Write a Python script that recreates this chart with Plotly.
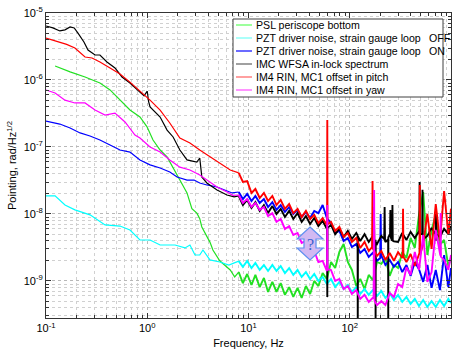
import plotly.graph_objects as go

# ---------------- data ----------------
hf_f = [8, 8.8, 9.7, 10.7, 11.7, 12.9, 14.2, 15.6, 17.2, 18.9,
        20.8, 22.9, 25.2, 27.7, 30.5, 33.5, 36.9, 40.6, 44.6, 49,
        54, 59.4, 65.3, 71.8, 79, 87, 95.7, 105, 116, 127,
        140, 154, 169, 186, 205, 225, 248, 273, 300, 330,
        363, 399, 439, 483, 531, 584, 643, 707, 778, 855,
        941, 1000]

# PSL periscope bottom (green)
psl_lf_f = [0.123, 0.137, 0.173, 0.243, 0.341, 0.429, 0.538, 0.675, 0.847, 0.995,
            1.14, 1.34, 1.57, 1.80, 2.10, 2.47, 2.76, 3.09, 3.30, 3.46,
            3.88, 4.16, 4.45, 5.2, 6.6, 7.3]
psl_lf_v = [1.62e-6, 1.51e-6, 1.32e-6, 1.11e-6, 9.0e-7, 7.1e-7, 5.0e-7, 3.56e-7, 2.8e-7, 2.0e-7,
            1.27e-7, 9.0e-8, 7.1e-8, 5.0e-8, 3.21e-8, 2.06e-8, 1.2e-8, 1.03e-8, 8.5e-9, 6.4e-9,
            4.54e-9, 3.8e-9, 2.9e-9, 2.0e-9, 1.46e-9, 1.15e-9]
psl_hf_v = [1.36e-9, 9.3e-10, 1.27e-9, 8.7e-10, 1.23e-9, 8.1e-10, 1.11e-9, 6.85e-10, 9.7e-10, 6.85e-10,
            9.3e-10, 6.2e-10, 8.1e-10, 5.77e-10, 7.9e-10, 5.57e-10, 8.4e-10, 6.4e-10, 1.0e-9, 8.4e-10,
            1.31e-9, 1.07e-9, 1.92e-9, 1.56e-9, 2.71e-9, 3.56e-9, 1.92e-9, 1.46e-9, 8.4e-10, 1.07e-9,
            7.6e-10, 1.23e-9, 1.03e-9, 1.92e-9, 1.8e-9, 2.2e-9, 1.19e-9, 1.73e-9, 1.56e-9, 2.71e-9,
            2.2e-9, 4.38e-9, 3.11e-9, 9.7e-9, 2.13e-8, 2.44e-9, 5.77e-9, 9.7e-9, 3.44e-9, 4.1e-9,
            1.67e-9, 2.2e-9]
psl_spk_f = []
psl_spk_v = []

# PZT driver noise, strain gauge loop OFF (cyan)
off_lf_f = [0.1, 0.109, 0.123, 0.154, 0.193, 0.272, 0.341, 0.383, 0.538, 0.675,
            0.847, 1.066, 1.34, 1.88, 2.36, 2.64, 2.96, 3.3, 3.55, 4.16,
            5.2, 6.4]
off_lf_v = [1.86e-8, 1.86e-8, 1.86e-8, 1.36e-8, 1.15e-8, 9.7e-9, 7.6e-9, 6.85e-9, 6.6e-9, 5.77e-9,
            4.09e-9, 4.09e-9, 3.44e-9, 3.44e-9, 3.11e-9, 3.44e-9, 2.44e-9, 2.44e-9, 2.9e-9, 2.06e-9,
            1.92e-9, 1.73e-9]
off_hf_v = [1.98e-9, 1.62e-9, 1.99e-9, 1.56e-9, 1.86e-9, 1.46e-9, 1.73e-9, 1.41e-9, 1.73e-9, 1.41e-9,
            1.67e-9, 1.31e-9, 1.56e-9, 1.23e-9, 1.46e-9, 1.15e-9, 1.36e-9, 1.07e-9, 1.27e-9, 1.0e-9,
            1.15e-9, 9.0e-10, 1.07e-9, 8.1e-10, 9.7e-10, 7.6e-10, 8.7e-10, 6.85e-10, 8.1e-10, 6.4e-10,
            7.6e-10, 6.2e-10, 7.3e-10, 5.97e-10, 7.1e-10, 5.57e-10, 6.6e-10, 5.2e-10, 6.2e-10, 4.86e-10,
            5.77e-10, 4.54e-10, 5.4e-10, 4.23e-10, 5.2e-10, 4.1e-10, 5.0e-10, 4.1e-10, 5.2e-10, 4.23e-10,
            5.4e-10, 4.7e-10]
off_spk_f = []
off_spk_v = []

# PZT driver noise, strain gauge loop ON (blue)
on_lf_f = [0.1, 0.137, 0.173, 0.217, 0.272, 0.341, 0.429, 0.538, 0.675, 0.847,
           1.066, 1.34, 1.67, 1.97, 2.47, 2.9, 3.3, 3.88, 4.89, 6.9]
on_lf_v = [2.44e-7, 2.2e-7, 1.92e-7, 1.62e-7, 1.46e-7, 1.27e-7, 1.07e-7, 9.0e-8, 8.4e-8, 6.4e-8,
           5.4e-8, 4.86e-8, 4.23e-8, 3.56e-8, 3.21e-8, 3.21e-8, 2.9e-8, 2.71e-8, 2.53e-8, 2.06e-8]
on_hf_v = [2.13e-8, 1.67e-8, 2.0e-8, 1.56e-8, 1.86e-8, 1.46e-8, 1.67e-8, 1.27e-8, 1.5e-8, 1.15e-8,
           1.36e-8, 1.07e-8, 1.27e-8, 1.0e-8, 1.15e-8, 9.0e-9, 1.07e-8, 8.7e-9, 1.11e-8, 1.03e-8,
           1.36e-8, 8.7e-9, 7.3e-9, 5.2e-9, 5.6e-9, 3.95e-9, 4.38e-9, 3.21e-9, 3.56e-9, 2.62e-9,
           3.0e-9, 2.28e-9, 2.62e-9, 2.0e-9, 2.4e-9, 1.73e-9, 2.06e-9, 1.62e-9, 1.92e-9, 1.36e-9,
           1.73e-9, 1.19e-9, 1.92e-9, 1.5e-9, 9.7e-10, 1.73e-9, 7.9e-10, 1.46e-9, 7.3e-10, 2.44e-9,
           8.1e-10, 1.56e-9]
on_spk_f = [200, 202, 204]
on_spk_v = [2.2e-9, 1.0e-8, 2.3e-9]

# IMC WFSA in-lock spectrum (black)
wfs_lf_f = [0.1, 0.117, 0.137, 0.154, 0.173, 0.19, 0.207, 0.237, 0.26, 0.305,
            0.341, 0.40, 0.48, 0.563, 0.675, 0.847, 0.93, 1.0, 1.03, 1.066,
            1.34, 1.57, 1.80, 2.1, 2.47, 3.09, 3.3, 3.46, 3.88, 4.89,
            6.13, 7.2]
wfs_lf_v = [6.4e-6, 6.0e-6, 5.4e-6, 5.6e-6, 6.18e-6, 5.97e-6, 5.0e-6, 3.69e-6, 2.8e-6, 2.36e-6,
            2.36e-6, 1.86e-6, 1.51e-6, 1.11e-6, 9.0e-7, 6.6e-7, 5.8e-7, 6.8e-7, 4.8e-7, 3.95e-7,
            2.8e-7, 1.79e-7, 1.41e-7, 9.0e-8, 6.4e-8, 5.97e-8, 6.85e-8, 3.56e-8, 2.9e-8, 2.28e-8,
            1.92e-8, 1.8e-8]
wfs_hf_v = [1.86e-8, 1.36e-8, 1.62e-8, 1.23e-8, 1.5e-8, 1.11e-8, 1.36e-8, 1.03e-8, 1.31e-8, 1.0e-8,
            1.19e-8, 9.0e-9, 1.11e-8, 8.4e-9, 1.03e-8, 7.6e-9, 9.3e-9, 7.1e-9, 8.7e-9, 6.6e-9,
            7.9e-9, 5.97e-9, 6.85e-9, 5.0e-9, 5.97e-9, 4.54e-9, 5.6e-9, 4.23e-9, 5.2e-9, 3.95e-9,
            5.0e-9, 3.82e-9, 4.7e-9, 3.56e-9, 4.7e-9, 3.8e-9, 4.9e-9, 3.9e-9, 3.82e-9, 5.2e-9,
            4.1e-9, 5.4e-9, 4.38e-9, 5.5e-9, 4.2e-9, 4.7e-9, 6.2e-9, 4.0e-9, 4.54e-9, 6.0e-9,
            5.0e-9, 6.6e-9]
wfs_spk_f = [59.7, 60, 60.3, 119.5, 120, 120.5, 171, 173, 175, 179.5, 180, 180.5,
             219, 221, 223, 239.5, 240, 240.5, 250, 252, 254, 262, 264, 266,
             486, 490, 494, 519, 523, 527, 700, 710, 720]
wfs_spk_v = [6.0e-9, 5.77e-10, 6.2e-9, 4.8e-9, 2e-10, 4.6e-9, 4.5e-9, 1.27e-8, 4.0e-9, 4.0e-9, 2e-10, 3.8e-9,
             4.2e-9, 1.27e-8, 4.0e-9, 4.2e-9, 2e-10, 4.5e-9, 4.8e-9, 1.15e-8, 4.5e-9, 4.0e-9, 1.36e-8, 4.0e-9,
             5.0e-9, 3.0e-8, 5.0e-9, 5.0e-9, 2.3e-8, 4.5e-9, 5.0e-9, 1.0e-8, 5.0e-9]

# IM4 RIN, MC1 offset in pitch (red)
pit_lf_f = [0.1, 0.137, 0.16, 0.193, 0.22, 0.243, 0.285, 0.341, 0.429, 0.538,
            0.675, 0.847, 1.066, 1.34, 1.67, 2.1, 2.64, 3.3, 4.16, 5.2,
            6.6]
pit_lf_v = [4.23e-6, 3.69e-6, 3.4e-6, 3.0e-6, 2.5e-6, 2.2e-6, 2.13e-6, 1.86e-6, 1.51e-6, 1.23e-6,
            9.3e-7, 6.86e-7, 5.0e-7, 3.56e-7, 2.28e-7, 1.36e-7, 1.15e-7, 9.0e-8, 7.1e-8, 5.77e-8,
            4.54e-8]
pit_hf_v = [4.1e-8, 3.0e-8, 3.1e-8, 2.06e-8, 2.36e-8, 1.73e-8, 2.06e-8, 1.56e-8, 1.86e-8, 1.36e-8,
            1.62e-8, 1.19e-8, 1.41e-8, 1.03e-8, 1.19e-8, 9.0e-9, 1.11e-8, 8.4e-9, 9.7e-9, 7.3e-9,
            8.7e-9, 6.85e-9, 7.6e-9, 5.6e-9, 6.4e-9, 4.54e-9, 5.2e-9, 3.82e-9, 4.38e-9, 3.11e-9,
            3.82e-9, 2.8e-9, 3.33e-9, 2.36e-9, 2.8e-9, 2.06e-9, 2.62e-9, 2.0e-9, 2.7e-9, 2.2e-9,
            1.92e-9, 2.53e-9, 1.67e-9, 2.5e-9, 3.5e-9, 1.0e-8, 3.0e-9, 1.4e-8, 4.0e-9, 2.2e-8,
            5.0e-9, 1.2e-8]
pit_spk_f = [59.7, 60, 60.3, 166, 168, 170, 333, 336, 339, 488, 492, 496]
pit_spk_v = [6.9e-9, 2.53e-7, 7.0e-9, 3.2e-9, 3.1e-8, 3.0e-9, 2.3e-9, 1.2e-8, 2.3e-9, 2.6e-9, 2.7e-8, 2.5e-9]

# IM4 RIN, MC1 offset in yaw (magenta)
yaw_lf_f = [0.1, 0.123, 0.154, 0.193, 0.243, 0.305, 0.383, 0.48, 0.603, 0.756,
            0.847, 1.066, 1.34, 1.67, 2.1, 2.64, 3.3, 3.88, 4.89, 6.13,
            7.0]
yaw_lf_v = [7.1e-7, 6.4e-7, 5.0e-7, 4.54e-7, 4.54e-7, 3.56e-7, 3.0e-7, 3.21e-7, 2.36e-7, 1.51e-7,
            1.36e-7, 1.0e-7, 8.4e-8, 6.4e-8, 5.0e-8, 4.54e-8, 3.82e-8, 3.21e-8, 2.53e-8, 2.13e-8,
            1.9e-8]
yaw_hf_v = [1.92e-8, 1.46e-8, 1.67e-8, 1.27e-8, 1.46e-8, 1.15e-8, 1.27e-8, 9.3e-9, 1.03e-8, 7.6e-9,
            8.4e-9, 5.97e-9, 6.6e-9, 4.86e-9, 5.2e-9, 3.69e-9, 3.95e-9, 2.71e-9, 2.8e-9, 1.92e-9,
            2.0e-9, 1.41e-9, 1.46e-9, 1.0e-9, 1.07e-9, 7.6e-10, 8.4e-10, 6.4e-10, 7.3e-10, 5.4e-10,
            6.2e-10, 4.86e-10, 5.6e-10, 4.38e-10, 5.0e-10, 4.38e-10, 6.6e-10, 5.77e-10, 9.0e-10, 8.1e-10,
            1.6e-9, 1.23e-9, 2.71e-9, 1.46e-9, 4.86e-9, 9.7e-10, 1.36e-9, 5.77e-9, 2.5e-9, 2.06e-9,
            1.46e-9, 2.44e-9]
yaw_spk_f = [59.7, 60, 60.3, 172, 174, 176, 785, 790, 795]
yaw_spk_v = [1.45e-9, 1.36e-8, 1.5e-9, 5.5e-10, 2.28e-8, 5.0e-10, 2.4e-9, 1.03e-8, 2.3e-9]

series_names = ["PSL periscope bottom",
                "PZT driver noise, strain gauge loop",
                "PZT driver noise, strain gauge loop",
                "IMC WFSA in-lock spectrum",
                "IM4 RIN, MC1 offset in pitch",
                "IM4 RIN, MC1 offset in yaw"]
loop_state = ["", "OFF", "ON", "", "", ""]
x_tick_vals = [0.1, 1, 10, 100, 1000]
x_tick_text = ["10<sup>-1</sup>", "10<sup>0</sup>", "10<sup>1</sup>", "10<sup>2</sup>", "10<sup>3</sup>"]
y_tick_vals = [1e-9, 1e-8, 1e-7, 1e-6, 1e-5]
y_tick_text = ["10<sup>-9</sup>", "10<sup>-8</sup>", "10<sup>-7</sup>", "10<sup>-6</sup>", "10<sup>-5</sup>"]

# ---------------- styling ----------------
line_colors = ["#22e022", "#00ffff", "#0000ff", "#000000", "#ff0000", "#ff00ff"]
legend_colors = ["#7cff7c", "#8ffff8", "#3a3aff", "#808080", "#ff8080", "#ff70ff"]
FONT = "Liberation Sans, Arial, sans-serif"
NOISY_FROM = 8.0  # Hz; above this the spectra are drawn as thicker noisy bands

W, H = 458, 353
L, R, T, B = 46, 451, 13, 318


def px(xp):
    return (xp - L) / (R - L)


def py(yp):
    return (B - yp) / (B - T)


def merge(lf_f, lf_v, hf_v, sf, sv):
    pts = list(zip(lf_f, lf_v)) + list(zip(hf_f, hf_v)) + list(zip(sf, sv))
    pts.sort(key=lambda p: p[0])
    return [p[0] for p in pts], [p[1] for p in pts]


data = [
    (psl_lf_f, psl_lf_v, psl_hf_v, psl_spk_f, psl_spk_v),
    (off_lf_f, off_lf_v, off_hf_v, off_spk_f, off_spk_v),
    (on_lf_f, on_lf_v, on_hf_v, on_spk_f, on_spk_v),
    (wfs_lf_f, wfs_lf_v, wfs_hf_v, wfs_spk_f, wfs_spk_v),
    (pit_lf_f, pit_lf_v, pit_hf_v, pit_spk_f, pit_spk_v),
    (yaw_lf_f, yaw_lf_v, yaw_hf_v, yaw_spk_f, yaw_spk_v),
]

fig = go.Figure()
for i, d in enumerate(data):
    fx, fy = merge(*d)
    lo = [(a, b) for a, b in zip(fx, fy) if a <= NOISY_FROM]
    hi = [(a, b) for a, b in zip(fx, fy) if a >= NOISY_FROM]
    fig.add_trace(go.Scatter(x=[p[0] for p in lo], y=[p[1] for p in lo], mode="lines",
                             name=series_names[i], legendgroup=str(i),
                             line=dict(color=line_colors[i], width=1.2),
                             showlegend=False))
    fig.add_trace(go.Scatter(x=[p[0] for p in hi], y=[p[1] for p in hi], mode="lines",
                             name=series_names[i], legendgroup=str(i),
                             line=dict(color=line_colors[i], width=1.9),
                             showlegend=False))

axis_common = dict(
    type="log",
    ticks="inside", ticklen=5, tickwidth=1, tickcolor="#333333",
    showline=True, linecolor="#333333", linewidth=1, mirror="allticks",
    showgrid=True, gridcolor="#b8b8b8", griddash="dot", gridwidth=1,
    tickfont=dict(family=FONT, size=11, color="#000000"),
    minor=dict(dtick="D1", ticks="inside", ticklen=3, tickcolor="#333333",
               showgrid=True, gridcolor="#d0d0d0", griddash="dot", gridwidth=1),
    zeroline=False, automargin=False,
)

fig.update_layout(
    width=W, height=H,
    margin=dict(l=L, r=W - R, t=T, b=H - B),
    paper_bgcolor="white", plot_bgcolor="white",
    font=dict(family=FONT, size=11, color="#000000"),
    showlegend=False,
    xaxis=dict(range=[-1, 3], tickvals=x_tick_vals, ticktext=x_tick_text,
               title=dict(text="Frequency, Hz", font=dict(family=FONT, size=11), standoff=6),
               **axis_common),
    yaxis=dict(range=[-9.553, -5], tickvals=y_tick_vals, ticktext=y_tick_text,
               title=dict(text="Pointing, rad/Hz<sup>1/2</sup>", font=dict(family=FONT, size=11), standoff=4),
               **axis_common),
)

# ---- manual legend (tight MATLAB-like spacing) ----
LEG_FONT = 10.6
shapes = []
annotations = []
shapes.append(dict(type="rect", xref="paper", yref="paper",
                   x0=px(233), x1=px(443), y0=py(97), y1=py(19),
                   fillcolor="white", line=dict(color="#404040", width=1), layer="above"))
for i, name in enumerate(series_names):
    yc = 25 + 13 * i
    shapes.append(dict(type="line", xref="paper", yref="paper",
                       x0=px(236), x1=px(252), y0=py(yc), y1=py(yc),
                       line=dict(color=legend_colors[i], width=1.5), layer="above"))
    annotations.append(dict(xref="paper", yref="paper", x=px(254), y=py(yc),
                            text=name, showarrow=False, xanchor="left", yanchor="middle",
                            font=dict(family=FONT, size=LEG_FONT, color="#000000")))
    if loop_state[i]:
        annotations.append(dict(xref="paper", yref="paper", x=px(427), y=py(yc),
                                text=loop_state[i], showarrow=False, xanchor="left",
                                yanchor="middle",
                                font=dict(family=FONT, size=LEG_FONT, color="#000000")))

# ---- double arrow with question mark ----
arrow_pts = [(310, 227), (323, 239), (316, 239), (316, 248), (323, 248), (310, 260),
             (297, 248), (304, 248), (304, 239), (297, 239)]
path = "M " + " L ".join(f"{px(a):.4f},{py(b):.4f}" for a, b in arrow_pts) + " Z"
shapes.append(dict(type="path", xref="paper", yref="paper", path=path,
                   fillcolor="#d2b9f2", line=dict(color="#5f8ff0", width=1.2), layer="above"))
annotations.append(dict(xref="paper", yref="paper", x=px(310), y=py(244), text="?",
                        showarrow=False, xanchor="center", yanchor="middle",
                        font=dict(family="Liberation Serif, DejaVu Serif, serif", size=16,
                                  color="#3a5fcf")))

fig.update_layout(shapes=shapes, annotations=annotations)
fig.write_html("out.html", config={"displayModeBar": False},
               post_script="document.body.style.margin='0px';document.body.style.padding='0px';")
